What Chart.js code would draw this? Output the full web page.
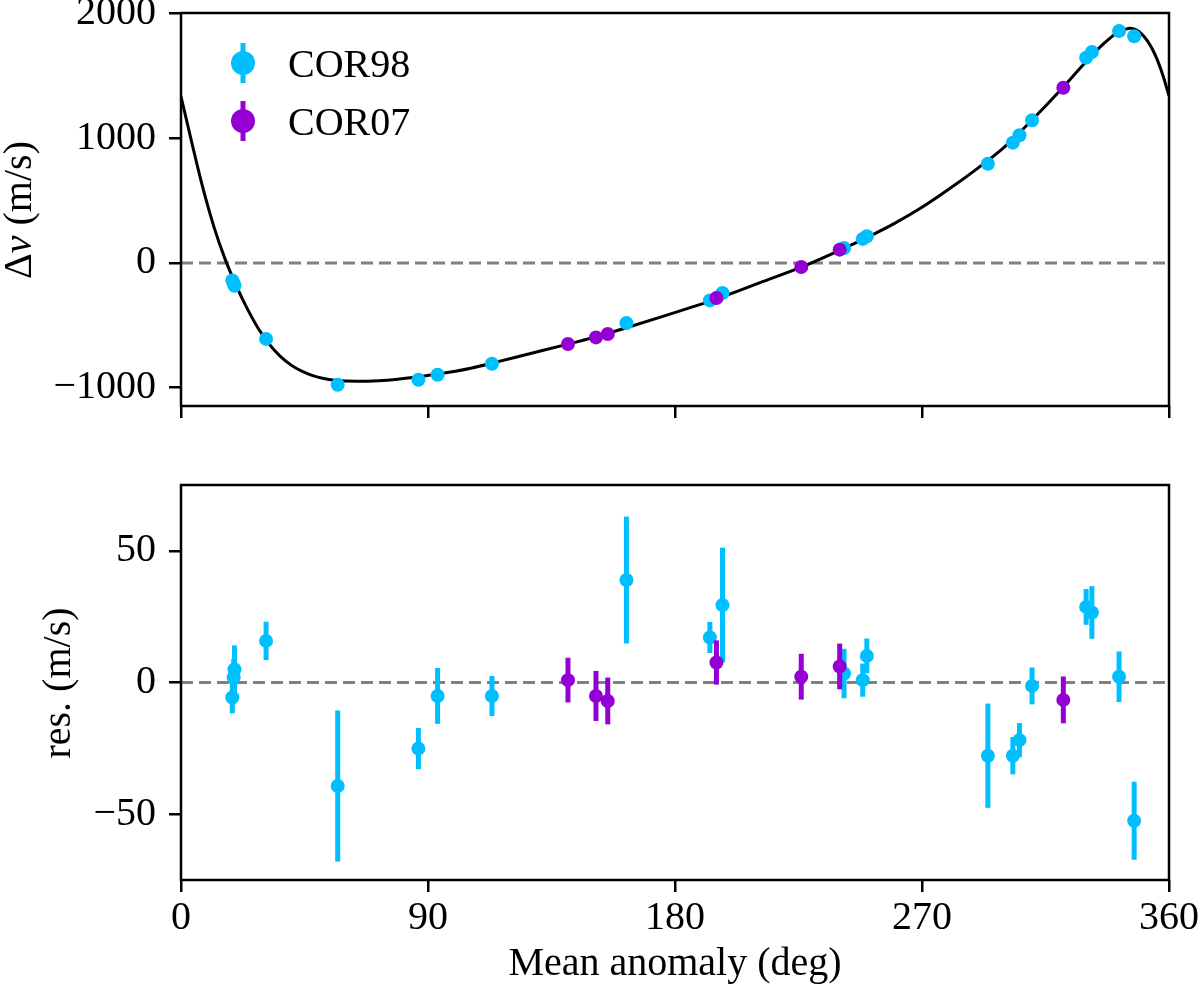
<!DOCTYPE html>
<html><head><meta charset="utf-8">
<script src="https://cdn.jsdelivr.net/npm/chart.js@4.4.1/dist/chart.umd.min.js"></script>
<style>
html,body{margin:0;padding:0;background:#fff;}
#w{position:relative;width:1200px;height:994px;background:#fff;}
#c1w{position:absolute;left:0;top:0;width:1200px;height:440px;}
#c2w{position:absolute;left:0;top:440px;width:1200px;height:554px;}
</style></head><body>
<div id="w"><div id="c1w"><canvas id="c1" width="1200" height="440"></canvas></div><div id="c2w"><canvas id="c2" width="1200" height="554"></canvas></div></div>
<script>
// ---- data ----
const phase98 = [18.7, 19.2, 19.5, 31.0, 57.1, 86.5, 93.5, 113.3, 162.3, 192.7, 197.3, 241.6, 248.4, 249.9, 294.0, 303.1, 305.5, 310.1, 329.8, 331.9, 341.8, 347.3];
const rv98    = [-140, -165, -182, -609, -976, -936, -896, -808, -482, -300, -241, 120, 193, 214, 796, 965, 1024, 1144, 1647, 1692, 1861, 1818];
const res98   = [-5.7, 1.9, 5.0, 15.8, -39.3, -25.1, -5.1, -5.1, 38.9, 17.1, 29.4, 3.4, 0.9, 10.1, -27.8, -27.8, -21.9, -1.3, 28.7, 26.6, 2.2, -52.5];
const err98   = [6.0, 7.0, 9.1, 7.3, 28.7, 7.8, 10.6, 7.6, 24.1, 5.9, 21.8, 9.4, 6.3, 6.6, 19.8, 7.1, 6.5, 7.0, 6.8, 10.0, 9.6, 14.8];

const phase07 = [141.0, 151.2, 155.5, 195.1, 226.0, 240.0, 321.5];
const rv07    = [-650, -597, -570, -281, -32, 107, 1406];
const res07   = [0.9, -5.1, -7.0, 7.6, 2.2, 6.1, -6.6];
const err07   = [8.5, 9.5, 8.9, 8.4, 8.7, 8.7, 8.9];

const curvePhase = [0, 4, 8, 12, 16, 20, 24, 28, 32, 36, 40, 44, 48, 52, 56, 60, 64, 68, 72, 79, 86.5, 93.5, 100, 106, 113, 127, 141, 152, 162, 175, 185, 195, 211, 226, 240, 250, 260, 270, 280, 290, 300, 310, 320, 330, 336, 341, 344, 346, 348, 350, 352, 354, 356, 358, 360];
const curveRv    = [1335, 960, 600, 290, 35, -175, -360, -519, -647, -745, -817, -868, -903, -926, -940, -947, -948, -948, -945, -932, -912, -891, -868, -842, -805, -728, -651, -588, -521, -432, -362, -290, -158, -34, 101, 205, 318, 447, 595, 755, 930, 1145, 1375, 1620, 1755, 1845, 1874, 1882, 1870, 1838, 1785, 1712, 1615, 1490, 1340];

const xTicks = [0, 90, 180, 270, 360];
const yTicksTop = [-1000, 0, 1000, 2000];
const yTicksRes = [-50, 0, 50];

const labels = ['COR98', 'COR07'];
const colors = ['#00bfff', '#9400d3'];

// ---- helpers ----
const FONT = "'Liberation Serif', 'Times New Roman', 'DejaVu Serif', serif";
const pts = (xs, ys) => xs.map((x, i) => ({x: x, y: ys[i]}));
const fmt = v => String(v).replace('-', '\u2212');

const errorBarPlugin = {
  id: 'errbars',
  beforeDatasetDraw(chart, args) {
    const ds = chart.data.datasets[args.index];
    if (!ds.errors) return;
    const ys = chart.scales.y, ctx = chart.ctx;
    ctx.save();
    ctx.strokeStyle = ds.backgroundColor;
    ctx.lineWidth = 5;
    ds.data.forEach((p, i) => {
      const x = args.meta.data[i].x;
      ctx.beginPath();
      ctx.moveTo(x, ys.getPixelForValue(p.y - ds.errors[i]));
      ctx.lineTo(x, ys.getPixelForValue(p.y + ds.errors[i]));
      ctx.stroke();
    });
    ctx.restore();
  }
};

const framePlugin = {
  id: 'frame',
  afterDatasetsDraw(chart) {
    const a = chart.chartArea, ctx = chart.ctx;
    ctx.save();
    ctx.strokeStyle = '#000';
    ctx.lineWidth = 2.5;
    ctx.strokeRect(a.left, a.top, a.right - a.left, a.bottom - a.top);
    ctx.restore();
  }
};

const textPlugin = {
  id: 'texts',
  afterDraw(chart, args, opts) {
    const ctx = chart.ctx;
    (opts.items || []).forEach(it => {
      ctx.save();
      ctx.fillStyle = '#000';
      ctx.textBaseline = 'alphabetic';
      ctx.translate(it.x, it.y);
      if (it.rotate) ctx.rotate(-Math.PI / 2);
      let total = 0;
      const widths = it.parts.map(p => {
        ctx.font = (p.italic ? 'italic ' : '') + '40px ' + FONT;
        const w = ctx.measureText(p.t).width; total += w; return w;
      });
      let cx = -total / 2;
      it.parts.forEach((p, i) => {
        ctx.font = (p.italic ? 'italic ' : '') + '40px ' + FONT;
        ctx.textAlign = 'left';
        ctx.fillText(p.t, cx, 0);
        cx += widths[i];
      });
      ctx.restore();
    });
  }
};

const legendPlugin = {
  id: 'errlegend',
  afterDraw(chart, args, opts) {
    if (!opts.show) return;
    const ctx = chart.ctx;
    labels.forEach((lab, i) => {
      const cx = 243, cy = 63 + i * 58;
      ctx.save();
      ctx.strokeStyle = colors[i];
      ctx.fillStyle = colors[i];
      ctx.lineWidth = 5;
      ctx.beginPath(); ctx.moveTo(cx, cy - 20); ctx.lineTo(cx, cy + 20); ctx.stroke();
      ctx.beginPath(); ctx.arc(cx, cy, 12, 0, Math.PI * 2); ctx.fill();
      ctx.fillStyle = '#000';
      ctx.font = '40px ' + FONT;
      ctx.textBaseline = 'alphabetic';
      ctx.textAlign = 'left';
      ctx.fillText(lab, 288, cy + 14);
      ctx.restore();
    });
  }
};

function makeChart(id, opts) {
  const datasets = [];
  datasets.push({label: 'zero', data: [{x: 0, y: 0}, {x: 360, y: 0}], showLine: true, borderColor: '#808080', borderWidth: 3, borderDash: [12, 6], pointRadius: 0, order: 4});
  if (opts.curve) {
    datasets.push({label: 'model', data: pts(curvePhase, curveRv), showLine: true, borderColor: '#000', borderWidth: 3, pointRadius: 0, cubicInterpolationMode: 'monotone', order: 3});
  }
  datasets.push({label: labels[0], data: pts(phase98, opts.y98), errors: err98, backgroundColor: colors[0], borderWidth: 0, pointRadius: 7, order: 2});
  datasets.push({label: labels[1], data: pts(phase07, opts.y07), errors: err07, backgroundColor: colors[1], borderWidth: 0, pointRadius: 7, order: 1});

  return new Chart(document.getElementById(id), {
    type: 'scatter',
    data: {datasets},
    plugins: [errorBarPlugin, framePlugin, textPlugin, legendPlugin],
    options: {
      responsive: false,
      animation: false,
      events: [],
      layout: {padding: {top: opts.padTop, right: 31, left: 0, bottom: 0}},
      plugins: {
        legend: {display: false},
        tooltip: {enabled: false},
        texts: {items: opts.texts},
        errlegend: {show: !!opts.legend}
      },
      scales: {
        x: {
          type: 'linear', min: 0, max: 360,
          afterBuildTicks: s => { s.ticks = xTicks.map(v => ({value: v})); },
          afterFit: s => { s.height = opts.xHeight; s.paddingLeft = 0; s.paddingRight = 0; },
          grid: {drawOnChartArea: false, drawTicks: true, tickLength: 12, color: '#000', lineWidth: 2.5},
          border: {display: false},
          ticks: {display: opts.xLabels, padding: 2, color: '#000', font: {family: FONT, size: 40}, maxRotation: 0, callback: v => fmt(v)}
        },
        y: {
          type: 'linear', min: opts.yMin, max: opts.yMax,
          afterBuildTicks: s => { s.ticks = opts.yTicks.map(v => ({value: v})); },
          afterFit: s => { s.width = 181; s.paddingTop = 0; s.paddingBottom = 0; },
          grid: {drawOnChartArea: false, drawTicks: true, tickLength: 12, color: '#000', lineWidth: 2.5},
          border: {display: false},
          ticks: {padding: 13, color: '#000', font: {family: FONT, size: 40}, callback: v => fmt(v)}
        }
      }
    }
  });
}

makeChart('c1', {
  curve: true, legend: true, y98: rv98, y07: rv07,
  yMin: -1147, yMax: 2005, yTicks: yTicksTop,
  padTop: 13, xHeight: 34, xLabels: false,
  texts: [{x: 31, y: 210, rotate: true, parts: [{t: '\u0394'}, {t: 'v', italic: true}, {t: ' (m/s)'}]}]
});
makeChart('c2', {
  curve: false, legend: false, y98: res98, y07: res07,
  yMin: -75, yMax: 75, yTicks: yTicksRes,
  padTop: 45, xHeight: 114, xLabels: true,
  texts: [
    {x: 70, y: 243, rotate: true, parts: [{t: 'res. (m/s)'}]},
    {x: 675, y: 535, rotate: false, parts: [{t: 'Mean anomaly (deg)'}]}
  ]
});
</script>
</body></html>
